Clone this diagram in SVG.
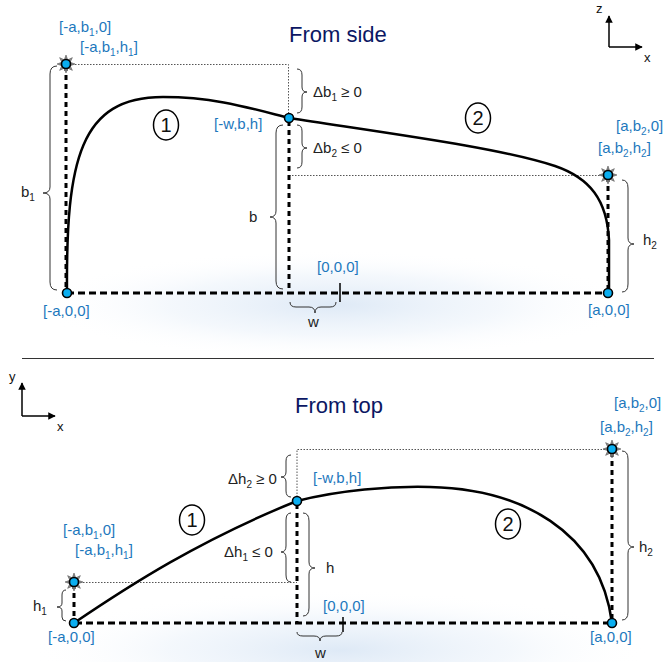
<svg xmlns="http://www.w3.org/2000/svg" width="664" height="662" viewBox="0 0 664 662">
<style>
text{font-family:"Liberation Sans",Arial,sans-serif}
.title{font-size:22px;fill:#0b1763}
.lbl{font-size:15px;fill:#1d78bd}
.blk{font-size:15px;fill:#222}
.ax{font-size:13px;fill:#111}
.sub{font-size:10px}
.dash{stroke:#000;stroke-width:3;fill:none}
.dh{stroke-dasharray:7 4}
.dv{stroke-dasharray:5 4}
.dot{stroke:#555;stroke-width:1;stroke-dasharray:1.5 1.5;fill:none}
.curve{stroke:#000;stroke-width:2.5;fill:none}
.brace{stroke:#333;stroke-width:1;fill:none}
.pt{fill:#0aaef0;stroke:#000;stroke-width:1.6}
.num{stroke:#000;stroke-width:1.5;fill:#fff}
.numt{font-size:20px;fill:#111;text-anchor:middle}
.axl{stroke:#000;stroke-width:1.5;fill:none}
</style>
<defs>
<radialGradient id="glow" cx="0.5" cy="0.5" r="0.5">
<stop offset="0" stop-color="#d3e2f3" stop-opacity="0.75"/>
<stop offset="0.55" stop-color="#e6eff9" stop-opacity="0.45"/>
<stop offset="1" stop-color="#ffffff" stop-opacity="0"/>
</radialGradient>
<marker id="ah" viewBox="0 0 10 10" refX="9" refY="5" markerWidth="5" markerHeight="5" orient="auto">
<path d="M0,0 L10,5 L0,10 z" fill="#000"/>
</marker>
<polygon id="star" points="0,-9 1.72,-4.16 6.36,-6.36 4.16,-1.72 9,0 4.16,1.72 6.36,6.36 1.72,4.16 0,9 -1.72,4.16 -6.36,6.36 -4.16,1.72 -9,0 -4.16,-1.72 -6.36,-6.36 -1.72,-4.16" fill="#8a8a8a" stroke="#5a5a5a" stroke-width="0.6"/>
</defs>

<rect width="664" height="662" fill="#fff"/>
<ellipse cx="335" cy="305" rx="300" ry="55" fill="url(#glow)"/>
<ellipse cx="340" cy="650" rx="310" ry="60" fill="url(#glow)"/>

<!-- Titles and axes -->
<g id="title-side"><text class="title" x="289" y="42">From side</text></g>
<g id="title-top"><text class="title" x="295" y="413">From top</text></g>
<line x1="22" y1="358.5" x2="654" y2="358.5" stroke="#333" stroke-width="1"/>
<g id="axis-side">
<line class="axl" x1="609" y1="47" x2="609" y2="16" marker-end="url(#ah)"/>
<line class="axl" x1="609" y1="47" x2="642" y2="47" marker-end="url(#ah)"/>
<text class="ax" x="596" y="13">z</text>
<text class="ax" x="644" y="62">x</text>
</g>
<g id="axis-top">
<line class="axl" x1="22" y1="416" x2="22" y2="383" marker-end="url(#ah)"/>
<line class="axl" x1="22" y1="416" x2="55" y2="416" marker-end="url(#ah)"/>
<text class="ax" x="9" y="381">y</text>
<text class="ax" x="57" y="431">x</text>
</g>

<!-- Connectors -->
<g id="connectors">
<!-- side view -->
<path class="dot" d="M66,64.5 H288.5 V118"/>
<path class="dot" d="M289,175.5 H608"/>
<line class="dash dv" x1="66" y1="66" x2="66" y2="293"/>
<line class="dash dv" x1="289" y1="121" x2="289" y2="293"/>
<line class="dash dv" x1="608" y1="177" x2="608" y2="293"/>
<line class="dash dh" x1="67" y1="293" x2="608" y2="293"/>
<line x1="340" y1="283" x2="340" y2="302" stroke="#000" stroke-width="1.5"/>
<path class="curve" d="M67,292 C66,160 80,97 163,97 C215,97 250,108 289,118 C400,135 500,148 555,166 C590,178 607,200 609,240 L609,293"/>
<!-- top view -->
<path class="dot" d="M297,500 V449.5 H612"/>
<path class="dot" d="M74,582.5 H297"/>
<line class="dash dv" x1="74" y1="584" x2="74" y2="623"/>
<line class="dash dv" x1="297" y1="504" x2="297" y2="623"/>
<line class="dash dv" x1="612" y1="452" x2="612" y2="623"/>
<line class="dash dh" x1="75" y1="623" x2="612" y2="623"/>
<line x1="343" y1="617" x2="343" y2="632" stroke="#000" stroke-width="1.5"/>
<path class="curve" d="M74,623 C130,585 200,540 297,501 C340,490 390,486 430,487 C520,489 600,530 612,623"/>
</g>

<!-- Braces -->
<g id="braces">
<path class="brace" d="M57,66 Q50,66 50,74 L50,187 Q50,193 43,193 Q50,193 50,199 L50,282 Q50,290 57,290"/>
<path class="brace" d="M283,125 Q276,125 276,133 L276,211 Q276,217 270,217 Q276,217 276,223 L276,281 Q276,289 283,289"/>
<path class="brace" d="M297,69 Q302,69 302,75 L302,87 Q302,92 307,92 Q302,92 302,97 L302,107 Q302,113 297,113"/>
<path class="brace" d="M297,125 Q302,125 302,131 L302,143 Q302,148 307,148 Q302,148 302,153 L302,162 Q302,168 297,168"/>
<path class="brace" d="M622,180 Q628,180 628,188 L628,238 Q628,244 634,244 Q628,244 628,250 L628,284 Q628,292 622,292"/>
<path class="brace" d="M290,302 Q290,307 296,307 L309,307 Q315,307 315,313 Q315,307 321,307 L330,307 Q336,307 336,302"/>
<path class="brace" d="M291,455 Q286,455 286,461 L286,472 Q286,477 281,477 Q286,477 286,482 L286,491 Q286,497 291,497"/>
<path class="brace" d="M291,513 Q286,513 286,520 L286,546 Q286,552 281,552 Q286,552 286,558 L286,575 Q286,582 291,582"/>
<path class="brace" d="M303,513 Q309,513 309,521 L309,562 Q309,568 315,568 Q309,568 309,574 L309,608 Q309,616 303,616"/>
<path class="brace" d="M66,590 Q62,590 62,595 L62,603 Q62,607 57,607 Q62,607 62,611 L62,617 Q62,621 66,621"/>
<path class="brace" d="M622,451 Q628,451 628,459 L628,541 Q628,547 634,547 Q628,547 628,553 L628,612 Q628,620 622,620"/>
<path class="brace" d="M297,632 Q297,636 303,636 L314,636 Q320,636 320,641 Q320,636 326,636 L336,636 Q342,636 342,632"/>
</g>

<!-- Nodes (points) -->
<g id="node-side-p1"><use href="#star" x="66" y="64"/><circle class="pt" cx="66" cy="64" r="4.5"/></g>
<g id="node-side-w"><circle class="pt" cx="289" cy="118" r="4.5"/></g>
<g id="node-side-p2"><use href="#star" x="608" y="175"/><circle class="pt" cx="608" cy="175" r="4.5"/></g>
<g id="node-side-a0"><circle class="pt" cx="67" cy="293" r="4.5"/></g>
<g id="node-side-b0"><circle class="pt" cx="608" cy="293" r="4.5"/></g>
<g id="node-top-p2"><use href="#star" x="612" y="449"/><circle class="pt" cx="612" cy="449" r="4.5"/></g>
<g id="node-top-w"><circle class="pt" cx="297" cy="501" r="4.5"/></g>
<g id="node-top-p1"><use href="#star" x="74" y="582"/><circle class="pt" cx="74" cy="582" r="4.5"/></g>
<g id="node-top-a0"><circle class="pt" cx="74" cy="623" r="4.5"/></g>
<g id="node-top-b0"><circle class="pt" cx="612" cy="623" r="4.5"/></g>

<!-- Segment numbers -->
<g id="seg-side-1"><ellipse class="num" cx="166" cy="125" rx="12.5" ry="15"/><text class="numt" x="166" y="132">1</text></g>
<g id="seg-side-2"><ellipse class="num" cx="478" cy="118" rx="12.5" ry="15"/><text class="numt" x="478" y="125">2</text></g>
<g id="seg-top-1"><ellipse class="num" cx="192" cy="520" rx="12.5" ry="15"/><text class="numt" x="192" y="527">1</text></g>
<g id="seg-top-2"><ellipse class="num" cx="508" cy="524" rx="12.5" ry="15"/><text class="numt" x="508" y="531">2</text></g>

<!-- Labels side -->
<g id="labels-side">
<text class="lbl" x="59" y="32">[-a,b<tspan class="sub" dy="4">1</tspan><tspan dy="-4">,0]</tspan></text>
<text class="lbl" x="80" y="52">[-a,b<tspan class="sub" dy="4">1</tspan><tspan dy="-4">,h</tspan><tspan class="sub" dy="4">1</tspan><tspan dy="-4">]</tspan></text>
<text class="lbl" x="214" y="129">[-w,b,h]</text>
<text class="lbl" x="616" y="131">[a,b<tspan class="sub" dy="4">2</tspan><tspan dy="-4">,0]</tspan></text>
<text class="lbl" x="598" y="153">[a,b<tspan class="sub" dy="4">2</tspan><tspan dy="-4">,h</tspan><tspan class="sub" dy="4">2</tspan><tspan dy="-4">]</tspan></text>
<text class="lbl" x="317" y="272">[0,0,0]</text>
<text class="lbl" x="43" y="316">[-a,0,0]</text>
<text class="lbl" x="588" y="315">[a,0,0]</text>
<text class="blk" x="313" y="97">Δb<tspan class="sub" dy="4">1</tspan><tspan dy="-4"> ≥ 0</tspan></text>
<text class="blk" x="313" y="153">Δb<tspan class="sub" dy="4">2</tspan><tspan dy="-4"> ≤ 0</tspan></text>
<text class="blk" x="21" y="197">b<tspan class="sub" dy="4">1</tspan></text>
<text class="blk" x="249" y="222">b</text>
<text class="blk" x="643" y="245">h<tspan class="sub" dy="4">2</tspan></text>
<text class="blk" x="308" y="327">w</text>
</g>

<!-- Labels top -->
<g id="labels-top">
<text class="lbl" x="614" y="408">[a,b<tspan class="sub" dy="4">2</tspan><tspan dy="-4">,0]</tspan></text>
<text class="lbl" x="600" y="432">[a,b<tspan class="sub" dy="4">2</tspan><tspan dy="-4">,h</tspan><tspan class="sub" dy="4">2</tspan><tspan dy="-4">]</tspan></text>
<text class="lbl" x="313" y="483">[-w,b,h]</text>
<text class="lbl" x="63" y="535">[-a,b<tspan class="sub" dy="4">1</tspan><tspan dy="-4">,0]</tspan></text>
<text class="lbl" x="75" y="555">[-a,b<tspan class="sub" dy="4">1</tspan><tspan dy="-4">,h</tspan><tspan class="sub" dy="4">1</tspan><tspan dy="-4">]</tspan></text>
<text class="lbl" x="323" y="611">[0,0,0]</text>
<text class="lbl" x="48" y="642">[-a,0,0]</text>
<text class="lbl" x="590" y="642">[a,0,0]</text>
<text class="blk" x="228" y="484">Δh<tspan class="sub" dy="4">2</tspan><tspan dy="-4"> ≥ 0</tspan></text>
<text class="blk" x="224" y="557">Δh<tspan class="sub" dy="4">1</tspan><tspan dy="-4"> ≤ 0</tspan></text>
<text class="blk" x="326" y="573">h</text>
<text class="blk" x="33" y="611">h<tspan class="sub" dy="4">1</tspan></text>
<text class="blk" x="639" y="552">h<tspan class="sub" dy="4">2</tspan></text>
<text class="blk" x="315" y="658">w</text>
</g>
</svg>
